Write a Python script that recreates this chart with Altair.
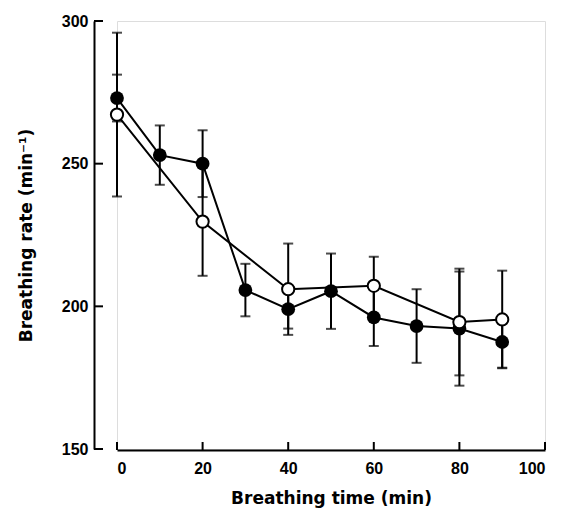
import altair as alt
import pandas as pd

# Filled circles series
time_filled = [0, 10, 20, 30, 40, 50, 60, 70, 80, 90]
rate_filled = [273.0, 253.0, 250.0, 205.7, 199.0, 205.3, 196.1, 193.1, 192.2, 187.5]
err_filled = [8.2, 10.4, 11.7, 9.2, 6.8, 13.2, 10.0, 12.9, 20.0, 9.0]

# Open circles series
time_open = [0, 20, 40, 60, 80, 90]
rate_open = [267.2, 229.7, 206.0, 207.2, 194.5, 195.4]
err_open = [28.7, 19.0, 16.0, 10.2, 18.7, 17.1]

x_ticks = [0, 20, 40, 60, 80, 100]
y_ticks = [150, 200, 250, 300]

W, H = 428, 428
X_OFF, Y_OFF = 1, 23

rows = []
for t, r, e in zip(time_filled, rate_filled, err_filled):
    rows.append({"series": "filled", "t": t, "rate": r, "lo": r - e, "hi": r + e})
for t, r, e in zip(time_open, rate_open, err_open):
    rows.append({"series": "open", "t": t, "rate": r, "lo": r - e, "hi": r + e})
df = pd.DataFrame(rows)

xs = alt.Scale(domain=[0, 100], nice=False, zero=False)
ys = alt.Scale(domain=[150, 300], nice=False, zero=False)

label_font = "Liberation Sans"
title_font = "DejaVu Sans"

x_axis = alt.Axis(
    values=x_ticks, tickSize=0, offset=X_OFF, domainWidth=2, domainColor="black",
    labelFont=label_font, labelFontSize=16, labelFontWeight="bold", labelColor="black",
    labelPadding=10, grid=False,
    title="Breathing time (min)", titleFont=title_font, titleFontSize=17,
    titleFontWeight="bold", titleColor="black", titlePadding=14,
)
y_axis = alt.Axis(
    values=y_ticks, tickSize=0, offset=Y_OFF, domainWidth=2, domainColor="black",
    labelFont=label_font, labelFontSize=16, labelFontWeight="bold", labelColor="black",
    labelPadding=6, grid=False,
    title="Breathing rate (min⁻¹)", titleFont=title_font, titleFontSize=17,
    titleFontWeight="bold", titleColor="black", titlePadding=26,
)

base = alt.Chart(df)

bars = base.mark_rule(color="black", strokeWidth=2).encode(
    x=alt.X("t:Q", scale=xs, axis=x_axis),
    y=alt.Y("lo:Q", scale=ys, axis=y_axis),
    y2="hi:Q",
)
cap_lo = base.mark_tick(color="black", orient="horizontal", size=10, thickness=2).encode(
    x=alt.X("t:Q", scale=xs), y=alt.Y("lo:Q", scale=ys)
)
cap_hi = base.mark_tick(color="black", orient="horizontal", size=10, thickness=2).encode(
    x=alt.X("t:Q", scale=xs), y=alt.Y("hi:Q", scale=ys)
)
lines = base.mark_line(color="black", strokeWidth=2).encode(
    x=alt.X("t:Q", scale=xs), y=alt.Y("rate:Q", scale=ys), detail="series:N"
)
filled_pts = base.transform_filter(alt.datum.series == "filled").mark_circle(
    color="black", size=190, opacity=1
).encode(x=alt.X("t:Q", scale=xs), y=alt.Y("rate:Q", scale=ys))
open_pts = base.transform_filter(alt.datum.series == "open").mark_point(
    shape="circle", filled=True, fill="white", stroke="black", strokeWidth=2,
    size=150, opacity=1
).encode(x=alt.X("t:Q", scale=xs), y=alt.Y("rate:Q", scale=ys))

xt = alt.Chart(pd.DataFrame({"v": x_ticks})).mark_rule(color="black", strokeWidth=2).encode(
    x=alt.X("v:Q", scale=xs), y=alt.value(H + X_OFF), y2=alt.value(H + X_OFF - 8)
)
yt = alt.Chart(pd.DataFrame({"v": y_ticks})).mark_rule(color="black", strokeWidth=2).encode(
    y=alt.Y("v:Q", scale=ys), x=alt.value(-Y_OFF), x2=alt.value(-Y_OFF + 9)
)

chart = alt.layer(bars, cap_lo, cap_hi, lines, filled_pts, open_pts, xt, yt).properties(
    width=W, height=H,
    autosize=alt.AutoSizeParams(type="none"),
    padding={"left": 109, "top": 13, "right": 18, "bottom": 59},
).configure_view(stroke=None).configure(background="white")

chart.save("out.html", embed_options={"renderer": "svg", "actions": False})
